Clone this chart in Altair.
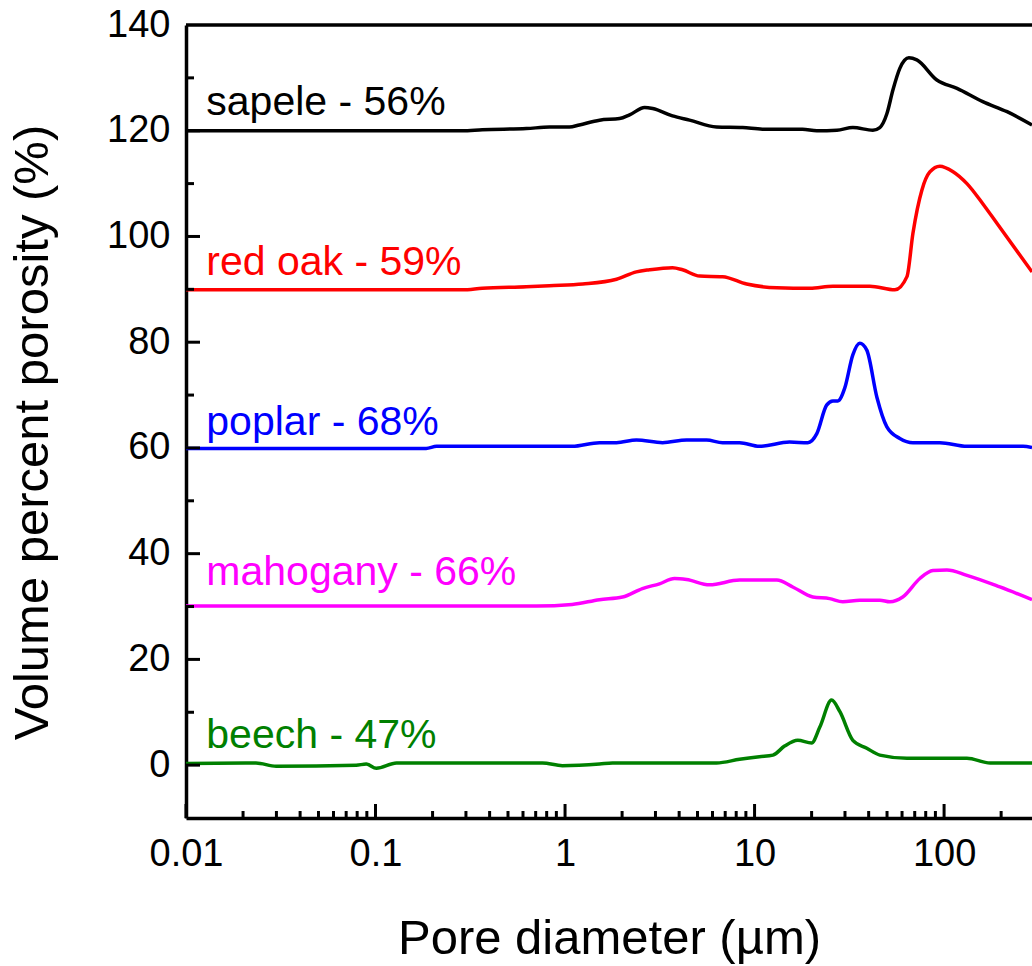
import altair as alt
import pandas as pd

# Pore size distributions (vertically offset by 30 % per wood species)
species = ["sapele", "red oak", "poplar", "mahogany", "beech"]
porosity_labels = ["sapele - 56%", "red oak - 59%", "poplar - 68%", "mahogany - 66%", "beech - 47%"]
line_colors = ["#000000", "#FF0000", "#0000FF", "#FF00FF", "#008000"]
label_y = [123.0, 92.7, 62.4, 34.0, 3.2]
label_x = 0.0128

sapele_d = [0.01, 0.287, 0.366, 0.625, 0.827, 1.055, 1.19, 1.52, 1.94, 2.19, 2.63, 2.90,
            3.69, 4.54, 6.30, 8.65, 11.0, 17.9, 21.3, 27.2, 33.0, 42.1, 45.8, 49.9, 53.7,
            58.4, 65.2, 71.8, 91.6, 117, 160, 215, 291]
sapele_v = [120.0, 120.0, 120.2, 120.4, 120.7, 120.7, 121.1, 122.0, 122.3, 123.0, 124.4, 124.2,
            122.8, 122.0, 120.7, 120.6, 120.3, 120.3, 120.0, 120.1, 120.6, 120.1, 120.6, 123.2, 127.7,
            131.8, 133.8, 133.4, 129.6, 128.0, 125.5, 123.6, 121.1]

red_oak_d = [0.01, 0.287, 0.366, 0.625, 0.827, 1.24, 1.87, 2.38, 2.79, 3.69, 4.17, 5.13, 6.78,
             9.08, 13.1, 19.6, 25.9, 40.6, 55.0, 63.7, 68.5, 76.4, 84.1, 95.0, 111, 132, 160,
             190, 291]
red_oak_v = [89.9, 89.9, 90.2, 90.5, 90.7, 91.0, 91.9, 93.3, 93.7, 94.1, 93.7, 92.5, 92.4,
             91.0, 90.3, 90.2, 90.6, 90.6, 89.9, 92.4, 100.6, 108.8, 112.2, 113.3, 112.3, 110.0, 106.2,
             102.5, 93.3]

poplar_d = [0.01, 0.185, 0.21, 1.09, 1.52, 1.87, 2.38, 3.27, 4.38, 5.58, 6.78, 8.34, 10.6,
            15.3, 19.1, 21.3, 24.0, 25.9, 27.5, 29.9, 33.0, 35.9, 39.1, 44.2, 49.9, 58.4,
            68.5, 95.0, 132, 261, 291]
poplar_v = [59.9, 59.9, 60.3, 60.3, 61.0, 61.0, 61.5, 61.0, 61.5, 61.5, 61.0, 61.0, 60.3,
            61.1, 61.0, 62.7, 68.1, 68.9, 68.9, 71.3, 77.6, 79.8, 78.5, 69.6, 64.0, 61.8,
            61.0, 61.0, 60.3, 60.3, 60.1]

mahogany_d = [0.01, 0.706, 1.09, 1.52, 2.01, 2.56, 3.15, 3.78, 4.38, 5.79, 8.34, 13.1, 15.9,
              20.3, 24.9, 29.2, 35.9, 45.8, 51.8, 60.5, 74.5, 87.3, 103.5, 132, 197, 291]
mahogany_v = [30.1, 30.1, 30.4, 31.3, 31.8, 33.4, 34.3, 35.3, 35.1, 34.1, 35.0, 35.0, 33.7,
              31.8, 31.5, 30.9, 31.2, 31.2, 30.9, 31.8, 35.3, 36.8, 36.9, 35.9, 33.7, 31.3]

beech_d = [0.01, 0.0234, 0.0299, 0.0791, 0.0894, 0.101, 0.129, 0.760, 0.968, 1.52, 1.78, 6.30,
           8.34, 10.6, 12.5, 14.4, 16.9, 20.0, 22.1, 25.5, 28.2, 33.0, 39.1, 45.8, 63.7, 132,
           175, 291]
beech_v = [0.3, 0.4, -0.2, 0.0, 0.2, -0.6, 0.4, 0.4, -0.1, 0.2, 0.4, 0.4,
           1.1, 1.6, 1.9, 3.6, 4.7, 4.2, 7.2, 12.3, 10.1, 4.7, 3.2, 1.9, 1.3, 1.3,
           0.4, 0.4]

x_major = [0.01, 0.1, 1, 10, 100]
x_minor = [m * d for d in [0.01, 0.1, 1, 10, 100] for m in range(2, 10) if m * d <= 291]
y_major = [0, 20, 40, 60, 80, 100, 120]
y_minor = [10, 30, 50, 70, 90, 110, 130]

W, H = 846, 793
FONT = "Liberation Sans"

rows = []
for name, d, v in [("sapele", sapele_d, sapele_v), ("red oak", red_oak_d, red_oak_v),
                   ("poplar", poplar_d, poplar_v), ("mahogany", mahogany_d, mahogany_v),
                   ("beech", beech_d, beech_v)]:
    for i, (xd, yv) in enumerate(zip(d, v)):
        rows.append({"species": name, "d": xd, "v": yv, "order": i})
curves = pd.DataFrame(rows)
labels = pd.DataFrame({"species": species, "text": porosity_labels,
                       "d": [label_x] * 5, "v": label_y})

xscale = alt.Scale(type="log", domain=[0.01, 291], nice=False)
yscale = alt.Scale(domain=[-10, 140], nice=False, zero=False)
cscale = alt.Scale(domain=species, range=line_colors)

lines = alt.Chart(curves).mark_line(strokeWidth=3.5, interpolate="monotone", clip=True).encode(
    x=alt.X("d:Q", scale=xscale,
            axis=alt.Axis(title="Pore diameter (µm)", values=x_major, format="~g",
                          labelPadding=17, labelFlush=False, labelOverlap=False,
                          titleY=135, titleBaseline="alphabetic")),
    y=alt.Y("v:Q", scale=yscale,
            axis=alt.Axis(title="Volume percent porosity (%)", values=y_major + [140], format="d",
                          labelPadding=16, labelFlush=False, labelOverlap=False,
                          titleX=-139, titleY=407, titleBaseline="alphabetic", titleAlign="center")),
    color=alt.Color("species:N", scale=cscale, legend=None),
    order="order:Q",
)

texts = alt.Chart(labels).mark_text(align="left", baseline="alphabetic", font=FONT, fontSize=41).encode(
    x=alt.X("d:Q", scale=xscale),
    y=alt.Y("v:Q", scale=yscale),
    color=alt.Color("species:N", scale=cscale, legend=None),
    text="text:N",
)

# inward tick marks
def xticks(vals, length):
    return alt.Chart(pd.DataFrame({"t": vals})).mark_rule(color="black", strokeWidth=3).encode(
        x=alt.X("t:Q", scale=xscale), y=alt.value(H), y2=alt.value(H - length))

def yticks(vals, length):
    return alt.Chart(pd.DataFrame({"t": vals})).mark_rule(color="black", strokeWidth=3).encode(
        y=alt.Y("t:Q", scale=yscale), x=alt.value(0), x2=alt.value(length))

top_frame = alt.Chart(pd.DataFrame({"t": [140]})).mark_rule(color="black", strokeWidth=3.5).encode(
    y=alt.Y("t:Q", scale=yscale), x=alt.value(0), x2=alt.value(W))

chart = alt.layer(
    lines, texts,
    xticks(x_major, 14), xticks(x_minor, 7),
    yticks(y_major, 14), yticks(y_minor, 8),
    top_frame,
).properties(
    width=W, height=H,
    autosize="none",
    padding={"left": 186, "top": 25, "right": 0, "bottom": 148},
    background="white",
).configure_view(stroke=None).configure_axis(
    grid=False, ticks=False, domainColor="black", domainWidth=3.5,
    labelFont=FONT, labelFontSize=38, labelColor="black",
    titleFont=FONT, titleFontSize=49, titleFontWeight="normal", titleColor="black",
)

chart.save("out.html", embed_options={"renderer": "svg", "actions": False})
